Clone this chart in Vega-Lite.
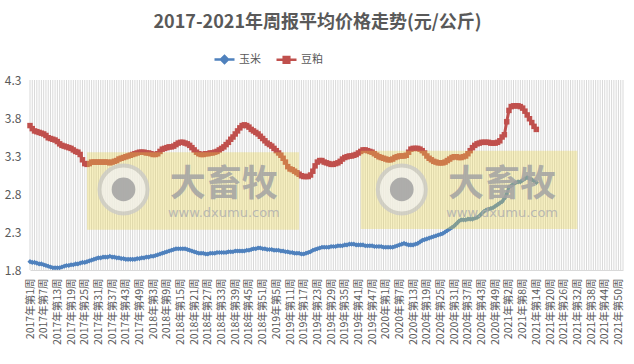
{
"$schema": "https://vega.github.io/schema/vega-lite/v6.json",
"width": 593, "height": 190,
"autosize": {"type": "none"},
"padding": {"left": 30, "top": 80, "right": 11, "bottom": 94},
"background": "white",
"config": {"view": {"stroke": null}, "font": "Noto Sans CJK SC", "axisY": {"labelOverlap": false, "labelBound": false}},
"title": {"text": "2017-2021年周报平均价格走势(元/公斤)", "fontSize": 18, "fontWeight": "bold", "color": "#595959", "font": "Noto Sans CJK SC", "anchor": "middle", "frame": "group", "offset": 16, "dx": -9},
"data": {"values": [
{"week":"2017年第1周","玉米":1.91,"豆粕":3.70},{"week":"2017年第2周","玉米":1.90,"豆粕":3.66},{"week":"2017年第3周","玉米":1.90,"豆粕":3.63},{"week":"2017年第4周","玉米":1.89,"豆粕":3.62},{"week":"2017年第5周","玉米":1.88,"豆粕":3.61},{"week":"2017年第6周","玉米":1.88,"豆粕":3.60},{"week":"2017年第7周","玉米":1.87,"豆粕":3.59},{"week":"2017年第8周","玉米":1.86,"豆粕":3.57},{"week":"2017年第9周","玉米":1.85,"豆粕":3.54},{"week":"2017年第10周","玉米":1.84,"豆粕":3.53},{"week":"2017年第11周","玉米":1.83,"豆粕":3.52},{"week":"2017年第12周","玉米":1.83,"豆粕":3.51},{"week":"2017年第13周","玉米":1.83,"豆粕":3.49},{"week":"2017年第14周","玉米":1.83,"豆粕":3.46},{"week":"2017年第15周","玉米":1.84,"豆粕":3.44},{"week":"2017年第16周","玉米":1.85,"豆粕":3.43},{"week":"2017年第17周","玉米":1.86,"豆粕":3.42},{"week":"2017年第18周","玉米":1.86,"豆粕":3.41},{"week":"2017年第19周","玉米":1.87,"豆粕":3.40},{"week":"2017年第20周","玉米":1.87,"豆粕":3.38},{"week":"2017年第21周","玉米":1.88,"豆粕":3.36},{"week":"2017年第22周","玉米":1.88,"豆粕":3.35},{"week":"2017年第23周","玉米":1.89,"豆粕":3.32},{"week":"2017年第24周","玉米":1.90,"豆粕":3.25},{"week":"2017年第25周","玉米":1.90,"豆粕":3.20},{"week":"2017年第26周","玉米":1.91,"豆粕":3.19},{"week":"2017年第27周","玉米":1.92,"豆粕":3.20},{"week":"2017年第28周","玉米":1.93,"豆粕":3.22},{"week":"2017年第29周","玉米":1.94,"豆粕":3.22},{"week":"2017年第30周","玉米":1.95,"豆粕":3.22},{"week":"2017年第31周","玉米":1.96,"豆粕":3.22},{"week":"2017年第32周","玉米":1.96,"豆粕":3.22},{"week":"2017年第33周","玉米":1.97,"豆粕":3.22},{"week":"2017年第34周","玉米":1.97,"豆粕":3.22},{"week":"2017年第35周","玉米":1.97,"豆粕":3.22},{"week":"2017年第36周","玉米":1.98,"豆粕":3.21},{"week":"2017年第37周","玉米":1.97,"豆粕":3.22},{"week":"2017年第38周","玉米":1.97,"豆粕":3.23},{"week":"2017年第39周","玉米":1.96,"豆粕":3.24},{"week":"2017年第40周","玉米":1.96,"豆粕":3.26},{"week":"2017年第41周","玉米":1.95,"豆粕":3.27},{"week":"2017年第42周","玉米":1.95,"豆粕":3.28},{"week":"2017年第43周","玉米":1.94,"豆粕":3.29},{"week":"2017年第44周","玉米":1.94,"豆粕":3.30},{"week":"2017年第45周","玉米":1.94,"豆粕":3.31},{"week":"2017年第46周","玉米":1.94,"豆粕":3.32},{"week":"2017年第47周","玉米":1.94,"豆粕":3.33},{"week":"2017年第48周","玉米":1.95,"豆粕":3.34},{"week":"2017年第49周","玉米":1.95,"豆粕":3.35},{"week":"2017年第50周","玉米":1.96,"豆粕":3.35},{"week":"2017年第51周","玉米":1.96,"豆粕":3.35},{"week":"2017年第52周","玉米":1.97,"豆粕":3.34},
{"week":"2018年第1周","玉米":1.97,"豆粕":3.34},{"week":"2018年第2周","玉米":1.98,"豆粕":3.33},{"week":"2018年第3周","玉米":1.98,"豆粕":3.32},{"week":"2018年第4周","玉米":1.99,"豆粕":3.32},{"week":"2018年第5周","玉米":2.00,"豆粕":3.33},{"week":"2018年第6周","玉米":2.01,"豆粕":3.36},{"week":"2018年第7周","玉米":2.02,"豆粕":3.39},{"week":"2018年第8周","玉米":2.03,"豆粕":3.40},{"week":"2018年第9周","玉米":2.04,"豆粕":3.41},{"week":"2018年第10周","玉米":2.05,"豆粕":3.42},{"week":"2018年第11周","玉米":2.06,"豆粕":3.42},{"week":"2018年第12周","玉米":2.07,"豆粕":3.43},{"week":"2018年第13周","玉米":2.08,"豆粕":3.45},{"week":"2018年第14周","玉米":2.08,"豆粕":3.47},{"week":"2018年第15周","玉米":2.08,"豆粕":3.48},{"week":"2018年第16周","玉米":2.08,"豆粕":3.48},{"week":"2018年第17周","玉米":2.08,"豆粕":3.47},{"week":"2018年第18周","玉米":2.07,"豆粕":3.46},{"week":"2018年第19周","玉米":2.06,"豆粕":3.44},{"week":"2018年第20周","玉米":2.05,"豆粕":3.41},{"week":"2018年第21周","玉米":2.04,"豆粕":3.38},{"week":"2018年第22周","玉米":2.03,"豆粕":3.35},{"week":"2018年第23周","玉米":2.02,"豆粕":3.33},{"week":"2018年第24周","玉米":2.02,"豆粕":3.32},{"week":"2018年第25周","玉米":2.02,"豆粕":3.32},{"week":"2018年第26周","玉米":2.01,"豆粕":3.33},{"week":"2018年第27周","玉米":2.01,"豆粕":3.33},{"week":"2018年第28周","玉米":2.02,"豆粕":3.34},{"week":"2018年第29周","玉米":2.02,"豆粕":3.34},{"week":"2018年第30周","玉米":2.02,"豆粕":3.35},{"week":"2018年第31周","玉米":2.03,"豆粕":3.36},{"week":"2018年第32周","玉米":2.03,"豆粕":3.38},{"week":"2018年第33周","玉米":2.03,"豆粕":3.40},{"week":"2018年第34周","玉米":2.03,"豆粕":3.42},{"week":"2018年第35周","玉米":2.03,"豆粕":3.45},{"week":"2018年第36周","玉米":2.04,"豆粕":3.48},{"week":"2018年第37周","玉米":2.04,"豆粕":3.52},{"week":"2018年第38周","玉米":2.04,"豆粕":3.55},{"week":"2018年第39周","玉米":2.05,"豆粕":3.59},{"week":"2018年第40周","玉米":2.05,"豆粕":3.63},{"week":"2018年第41周","玉米":2.05,"豆粕":3.67},{"week":"2018年第42周","玉米":2.05,"豆粕":3.70},{"week":"2018年第43周","玉米":2.05,"豆粕":3.71},{"week":"2018年第44周","玉米":2.06,"豆粕":3.70},{"week":"2018年第45周","玉米":2.06,"豆粕":3.68},{"week":"2018年第46周","玉米":2.07,"豆粕":3.65},{"week":"2018年第47周","玉米":2.08,"豆粕":3.63},{"week":"2018年第48周","玉米":2.08,"豆粕":3.61},{"week":"2018年第49周","玉米":2.09,"豆粕":3.59},{"week":"2018年第50周","玉米":2.09,"豆粕":3.56},{"week":"2018年第51周","玉米":2.08,"豆粕":3.53},{"week":"2018年第52周","玉米":2.08,"豆粕":3.50},
{"week":"2019年第1周","玉米":2.07,"豆粕":3.47},{"week":"2019年第2周","玉米":2.07,"豆粕":3.45},{"week":"2019年第3周","玉米":2.07,"豆粕":3.43},{"week":"2019年第4周","玉米":2.06,"豆粕":3.40},{"week":"2019年第5周","玉米":2.06,"豆粕":3.37},{"week":"2019年第6周","玉米":2.06,"豆粕":3.34},{"week":"2019年第7周","玉米":2.05,"豆粕":3.31},{"week":"2019年第8周","玉米":2.05,"豆粕":3.27},{"week":"2019年第9周","玉米":2.04,"豆粕":3.22},{"week":"2019年第10周","玉米":2.04,"豆粕":3.16},{"week":"2019年第11周","玉米":2.03,"豆粕":3.13},{"week":"2019年第12周","玉米":2.03,"豆粕":3.12},{"week":"2019年第13周","玉米":2.02,"豆粕":3.10},{"week":"2019年第14周","玉米":2.02,"豆粕":3.08},{"week":"2019年第15周","玉米":2.02,"豆粕":3.06},{"week":"2019年第16周","玉米":2.01,"豆粕":3.04},{"week":"2019年第17周","玉米":2.01,"豆粕":3.03},{"week":"2019年第18周","玉米":2.02,"豆粕":3.03},{"week":"2019年第19周","玉米":2.03,"豆粕":3.03},{"week":"2019年第20周","玉米":2.04,"豆粕":3.05},{"week":"2019年第21周","玉米":2.06,"豆粕":3.10},{"week":"2019年第22周","玉米":2.07,"豆粕":3.17},{"week":"2019年第23周","玉米":2.08,"豆粕":3.22},{"week":"2019年第24周","玉米":2.09,"豆粕":3.24},{"week":"2019年第25周","玉米":2.10,"豆粕":3.24},{"week":"2019年第26周","玉米":2.10,"豆粕":3.22},{"week":"2019年第27周","玉米":2.10,"豆粕":3.21},{"week":"2019年第28周","玉米":2.10,"豆粕":3.20},{"week":"2019年第29周","玉米":2.11,"豆粕":3.19},{"week":"2019年第30周","玉米":2.11,"豆粕":3.19},{"week":"2019年第31周","玉米":2.11,"豆粕":3.20},{"week":"2019年第32周","玉米":2.12,"豆粕":3.21},{"week":"2019年第33周","玉米":2.12,"豆粕":3.23},{"week":"2019年第34周","玉米":2.12,"豆粕":3.26},{"week":"2019年第35周","玉米":2.13,"豆粕":3.28},{"week":"2019年第36周","玉米":2.13,"豆粕":3.29},{"week":"2019年第37周","玉米":2.14,"豆粕":3.30},{"week":"2019年第38周","玉米":2.14,"豆粕":3.30},{"week":"2019年第39周","玉米":2.14,"豆粕":3.31},{"week":"2019年第40周","玉米":2.13,"豆粕":3.32},{"week":"2019年第41周","玉米":2.13,"豆粕":3.34},{"week":"2019年第42周","玉米":2.13,"豆粕":3.36},{"week":"2019年第43周","玉米":2.13,"豆粕":3.38},{"week":"2019年第44周","玉米":2.12,"豆粕":3.38},{"week":"2019年第45周","玉米":2.12,"豆粕":3.37},{"week":"2019年第46周","玉米":2.12,"豆粕":3.36},{"week":"2019年第47周","玉米":2.12,"豆粕":3.35},{"week":"2019年第48周","玉米":2.11,"豆粕":3.33},{"week":"2019年第49周","玉米":2.11,"豆粕":3.31},{"week":"2019年第50周","玉米":2.11,"豆粕":3.29},{"week":"2019年第51周","玉米":2.11,"豆粕":3.28},{"week":"2019年第52周","玉米":2.10,"豆粕":3.27},
{"week":"2020年第1周","玉米":2.10,"豆粕":3.26},{"week":"2020年第2周","玉米":2.10,"豆粕":3.25},{"week":"2020年第3周","玉米":2.10,"豆粕":3.25},{"week":"2020年第4周","玉米":2.10,"豆粕":3.26},{"week":"2020年第5周","玉米":2.11,"豆粕":3.28},{"week":"2020年第6周","玉米":2.12,"豆粕":3.29},{"week":"2020年第7周","玉米":2.13,"豆粕":3.30},{"week":"2020年第8周","玉米":2.14,"豆粕":3.30},{"week":"2020年第9周","玉米":2.15,"豆粕":3.30},{"week":"2020年第10周","玉米":2.14,"豆粕":3.31},{"week":"2020年第11周","玉米":2.13,"豆粕":3.35},{"week":"2020年第12周","玉米":2.13,"豆粕":3.39},{"week":"2020年第13周","玉米":2.13,"豆粕":3.40},{"week":"2020年第14周","玉米":2.14,"豆粕":3.40},{"week":"2020年第15周","玉米":2.15,"豆粕":3.40},{"week":"2020年第16周","玉米":2.17,"豆粕":3.39},{"week":"2020年第17周","玉米":2.19,"豆粕":3.37},{"week":"2020年第18周","玉米":2.20,"豆粕":3.34},{"week":"2020年第19周","玉米":2.21,"豆粕":3.30},{"week":"2020年第20周","玉米":2.22,"豆粕":3.27},{"week":"2020年第21周","玉米":2.23,"豆粕":3.25},{"week":"2020年第22周","玉米":2.24,"豆粕":3.23},{"week":"2020年第23周","玉米":2.25,"豆粕":3.22},{"week":"2020年第24周","玉米":2.26,"豆粕":3.21},{"week":"2020年第25周","玉米":2.27,"豆粕":3.21},{"week":"2020年第26周","玉米":2.28,"豆粕":3.21},{"week":"2020年第27周","玉米":2.30,"豆粕":3.22},{"week":"2020年第28周","玉米":2.32,"豆粕":3.24},{"week":"2020年第29周","玉米":2.34,"豆粕":3.26},{"week":"2020年第30周","玉米":2.36,"豆粕":3.28},{"week":"2020年第31周","玉米":2.38,"豆粕":3.29},{"week":"2020年第32周","玉米":2.41,"豆粕":3.29},{"week":"2020年第33周","玉米":2.44,"豆粕":3.28},{"week":"2020年第34周","玉米":2.46,"豆粕":3.28},{"week":"2020年第35周","玉米":2.46,"豆粕":3.29},{"week":"2020年第36周","玉米":2.46,"豆粕":3.30},{"week":"2020年第37周","玉米":2.47,"豆粕":3.33},{"week":"2020年第38周","玉米":2.47,"豆粕":3.37},{"week":"2020年第39周","玉米":2.47,"豆粕":3.41},{"week":"2020年第40周","玉米":2.48,"豆粕":3.44},{"week":"2020年第41周","玉米":2.49,"豆粕":3.46},{"week":"2020年第42周","玉米":2.51,"豆粕":3.47},{"week":"2020年第43周","玉米":2.54,"豆粕":3.48},{"week":"2020年第44周","玉米":2.57,"豆粕":3.48},{"week":"2020年第45周","玉米":2.59,"豆粕":3.48},{"week":"2020年第46周","玉米":2.60,"豆粕":3.48},{"week":"2020年第47周","玉米":2.61,"豆粕":3.47},{"week":"2020年第48周","玉米":2.62,"豆粕":3.47},{"week":"2020年第49周","玉米":2.64,"豆粕":3.47},{"week":"2020年第50周","玉米":2.66,"豆粕":3.48},{"week":"2020年第51周","玉米":2.68,"豆粕":3.50},{"week":"2020年第52周","玉米":2.70,"豆粕":3.55},{"week":"2020年第53周","玉米":2.74,"豆粕":3.58},
{"week":"2021年第1周","玉米":2.80,"豆粕":3.75},{"week":"2021年第2周","玉米":2.89,"豆粕":3.90},{"week":"2021年第3周","玉米":2.91,"豆粕":3.95},{"week":"2021年第4周","玉米":2.93,"豆粕":3.96},{"week":"2021年第5周","玉米":2.95,"豆粕":3.96},{"week":"2021年第6周","玉米":2.96,"豆粕":3.96},{"week":"2021年第7周","玉米":2.96,"豆粕":3.95},{"week":"2021年第8周","玉米":2.98,"豆粕":3.93},{"week":"2021年第9周","玉米":3.00,"豆粕":3.89},{"week":"2021年第10周","玉米":3.02,"豆粕":3.84},{"week":"2021年第11周","玉米":3.00,"豆粕":3.79},{"week":"2021年第12周","玉米":2.99,"豆粕":3.74},{"week":"2021年第13周","玉米":2.97,"豆粕":3.69},{"week":"2021年第14周","玉米":2.95,"豆粕":3.65},
{"week":"2021年第15周"},{"week":"2021年第16周"},{"week":"2021年第17周"},{"week":"2021年第18周"},{"week":"2021年第19周"},{"week":"2021年第20周"},{"week":"2021年第21周"},{"week":"2021年第22周"},{"week":"2021年第23周"},{"week":"2021年第24周"},{"week":"2021年第25周"},{"week":"2021年第26周"},{"week":"2021年第27周"},{"week":"2021年第28周"},{"week":"2021年第29周"},{"week":"2021年第30周"},{"week":"2021年第31周"},{"week":"2021年第32周"},{"week":"2021年第33周"},{"week":"2021年第34周"},{"week":"2021年第35周"},{"week":"2021年第36周"},{"week":"2021年第37周"},{"week":"2021年第38周"},{"week":"2021年第39周"},{"week":"2021年第40周"},{"week":"2021年第41周"},{"week":"2021年第42周"},{"week":"2021年第43周"},{"week":"2021年第44周"},{"week":"2021年第45周"},{"week":"2021年第46周"},{"week":"2021年第47周"},{"week":"2021年第48周"},{"week":"2021年第49周"},{"week":"2021年第50周"},{"week":"2021年第51周"},{"week":"2021年第52周"}
]},
"encoding": {
  "x": {"field": "week", "type": "ordinal", "sort": null, "scale": {"type": "point", "padding": 0},
    "axis": {"title": null, "grid": false, "ticks": false, "domain": true, "domainColor": "#D9D9D9",
      "labelAngle": 270, "labelAlign": "right", "labelBaseline": "middle", "labelFontSize": 10.5, "labelColor": "#595959", "labelFont": "Noto Sans CJK SC",
      "labelPadding": 8, "labelOverlap": false, "labelBound": false, "labelFlush": false,
      "labelExpr": "indexof(domain('x'), datum.value) % 6 === 0 ? datum.value : ''"}}
},
"layer": [
  {"mark": {"type": "rule", "color": "#D9D9D9", "strokeWidth": 1}, "encoding": {}},
  {"mark": {"type": "line", "strokeWidth": 3, "invalid": "break-paths-show-domains"},
   "encoding": {
     "y": {"field": "玉米", "type": "quantitative", "scale": {"domain": [1.8, 4.3], "nice": false, "zero": false},
       "axis": {"title": null, "values": [1.8, 2.3, 2.8, 3.3, 3.8, 4.3], "tickCount": 12, "format": ".1f", "grid": false, "domain": false, "ticks": false, "labelOverlap": false, "labelFontSize": 12, "labelColor": "#595959", "labelPadding": 9}},
     "color": {"datum": "玉米", "type": "nominal", "scale": {"domain": ["玉米", "豆粕"], "range": ["#4F81BD", "#C0504D"]},
       "legend": {"title": null, "orient": "none", "legendX": 183, "legendY": -32, "direction": "horizontal", "padding": 0,
         "symbolSize": 400, "symbolStrokeWidth": 2.5, "labelFontSize": 11, "labelColor": "#595959", "labelFont": "Noto Sans CJK SC", "columnPadding": 10, "labelOffset": 3,
         "encode": {"symbols": {"update": {
           "shape": {"signal": "datum.value === '玉米' ? 'M-1,0L1,0M-0.35,0L0,-0.35L0.35,0L0,0.35Z' : 'M-1,0L1,0M-0.28,-0.28L0.28,-0.28L0.28,0.28L-0.28,0.28Z'"},
           "fill": {"scale": "color", "field": "value"}, "stroke": {"scale": "color", "field": "value"}, "opacity": {"value": 1}, "fillOpacity": {"value": 1}}}}}}
   }},
  {"mark": {"type": "point", "shape": "diamond", "filled": true, "size": 26, "opacity": 1},
   "encoding": {"y": {"field": "玉米", "type": "quantitative"}, "color": {"datum": "玉米", "type": "nominal"}}},
  {"mark": {"type": "line", "strokeWidth": 3, "invalid": "break-paths-show-domains"},
   "encoding": {"y": {"field": "豆粕", "type": "quantitative"}, "color": {"datum": "豆粕", "type": "nominal"}}},
  {"mark": {"type": "point", "shape": "square", "filled": true, "size": 30, "opacity": 1},
   "encoding": {"y": {"field": "豆粕", "type": "quantitative"}, "color": {"datum": "豆粕", "type": "nominal"}}},
  {"data": {"values": [{}]}, "mark": {"type": "rect", "color": "#EBD54A", "opacity": 0.33},
   "encoding": {"x": {"datum": "2017年第26周"}, "x2": {"datum": "2019年第15周"}, "y": {"datum": 3.35, "type": "quantitative"}, "y2": {"datum": 2.33}}},
  {"data": {"values": [{}]}, "mark": {"type": "rect", "color": "#EBD54A", "opacity": 0.33},
   "encoding": {"x": {"datum": "2019年第42周"}, "x2": {"datum": "2021年第32周"}, "y": {"datum": 3.37, "type": "quantitative"}, "y2": {"datum": 2.34}}},
  {"data": {"values": [{"w": "2017年第42周"}, {"w": "2020年第8周"}]}, "mark": {"type": "point", "shape": "circle", "filled": true, "size": 2300, "color": "#F2F2F2", "stroke": "#C8C8C8", "strokeWidth": 4, "opacity": 0.75},
   "encoding": {"x": {"field": "w", "type": "ordinal"}, "y": {"datum": 2.86, "type": "quantitative"}}},
  {"data": {"values": [{"w": "2017年第42周"}, {"w": "2020年第8周"}]}, "mark": {"type": "point", "shape": "circle", "filled": true, "size": 560, "color": "#9C9C9C", "opacity": 0.8},
   "encoding": {"x": {"field": "w", "type": "ordinal"}, "y": {"datum": 2.86, "type": "quantitative"}}},
  {"data": {"values": [{"w": "2018年第34周"}, {"w": "2020年第52周"}]}, "mark": {"type": "text", "text": "大畜牧", "fontSize": 36, "fontWeight": "bold", "color": "#A3A3A3", "opacity": 0.85, "baseline": "middle", "font": "Noto Sans CJK SC"},
   "encoding": {"x": {"field": "w", "type": "ordinal"}, "y": {"datum": 2.92, "type": "quantitative"}}},
  {"data": {"values": [{"w": "2018年第34周"}, {"w": "2020年第52周"}]}, "mark": {"type": "text", "text": "www.dxumu.com", "fontSize": 13, "color": "#B0B0B0", "opacity": 0.85, "baseline": "middle", "font": "DejaVu Sans"},
   "encoding": {"x": {"field": "w", "type": "ordinal"}, "y": {"datum": 2.55, "type": "quantitative"}}}
]
}
